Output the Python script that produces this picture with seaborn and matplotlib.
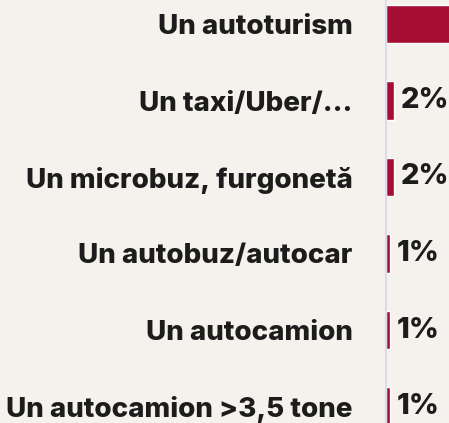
import matplotlib
matplotlib.use("Agg")
import matplotlib.pyplot as plt
import seaborn as sns
import pandas as pd

# Vehicle categories and their share (%)
categories = [
    "Un autoturism",
    "Un taxi/Uber/...",
    "Un microbuz, furgonetă",
    "Un autobuz/autocar",
    "Un autocamion",
    "Un autocamion >3,5 tone",
]
shares = [88, 2, 2, 1, 1, 1]

BG = "#f5f2ed"
BAR = "#a50d32"
INK = "#1c1c1c"
AXIS = "#dcdcf0"

sns.set_theme(style="white")
plt.rcParams["font.family"] = ["Inter", "DejaVu Sans"]

df = pd.DataFrame({"category": categories, "share": shares})

W, H, DPI = 449, 423, 100
fig = plt.figure(figsize=(W / DPI, H / DPI), dpi=DPI, facecolor=BG)

# axes frame in pixels: zero line at x=386, rows ~76.5px apart starting at y=24
row = 76.5
x0 = 386.0
px_per_pct = 4.0
top_px = 24 - row / 2
bottom_px = top_px + row * len(categories)
ax = fig.add_axes([
    x0 / W,
    (H - bottom_px) / H,
    100 * px_per_pct / W,
    (bottom_px - top_px) / H,
])
ax.set_facecolor(BG)

sns.barplot(data=df, x="share", y="category", orient="h", color=BAR,
            width=0.5, saturation=1, ax=ax)

ax.set_xlim(0, 100)
ax.set_ylim(len(categories) - 0.5, -0.5)
ax.set_xlabel("")
ax.set_ylabel("")
ax.set_xticks([])

for s in ["top", "right", "bottom"]:
    ax.spines[s].set_visible(False)
ax.spines["left"].set_color(AXIS)
ax.spines["left"].set_linewidth(1.6)

ax.tick_params(axis="y", length=0, pad=24, labelsize=20, labelcolor=INK)
for lbl in ax.get_yticklabels():
    lbl.set_fontweight(800)

# value labels for the small bars; the long bar runs past the right edge
for cont in ax.containers:
    labels = ["" if v > 50 else f"{v:g}%" for v in shares]
    ax.bar_label(cont, labels=labels, padding=5,
                 fontsize=21, fontweight=800, color=INK)

fig.savefig("out.png", dpi=DPI, facecolor=BG)
